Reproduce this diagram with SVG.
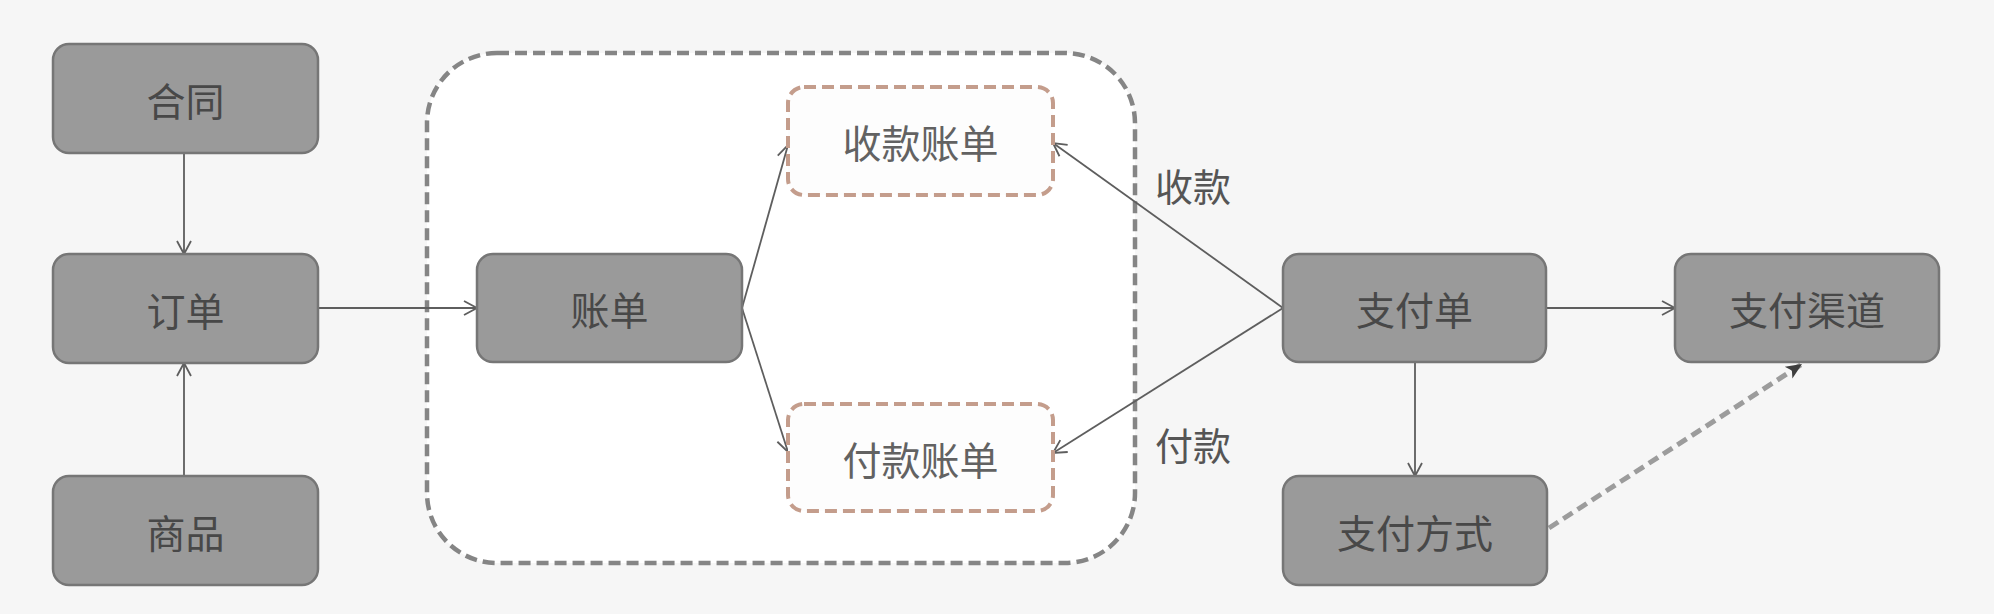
<svg xmlns="http://www.w3.org/2000/svg" width="1994" height="614" viewBox="0 0 1994 614">
  <style>
    .node rect { fill: #9a9a9a; stroke: #767676; stroke-width: 2.5; }
    .sub rect { fill: #fdfdfd; stroke: #c49d8c; stroke-width: 4; stroke-dasharray: 12 6; }
    .node text, .sub text { font-family: "Noto Sans CJK SC", "Noto Sans", sans-serif; font-size: 39px; fill: #484848; text-anchor: middle; dominant-baseline: central; }
    .sub text { fill: #626262; }
    .lbl { font-family: "Noto Sans CJK SC", "Noto Sans", sans-serif; font-size: 38px; fill: #555; text-anchor: middle; dominant-baseline: central; }
    .edge { stroke: #5e5e5e; stroke-width: 1.8; fill: none; marker-end: url(#open); }
    .dashedge { stroke: #9c9c9c; stroke-width: 5; fill: none; stroke-dasharray: 11 6; marker-end: url(#solid); }
  </style>
  <defs>
    <marker id="open" markerUnits="userSpaceOnUse" markerWidth="16" markerHeight="18" refX="14" refY="8" orient="auto">
      <path d="M1,1 L14,8 L1,15" fill="none" stroke="#5e5e5e" stroke-width="1.8"/>
    </marker>
    <marker id="solid" markerUnits="userSpaceOnUse" markerWidth="20" markerHeight="20" refX="16" refY="9" orient="auto">
      <path d="M0,2 L16,9 L0,16 L4,9 Z" fill="#3e3e3e"/>
    </marker>
  </defs>
  <rect x="0" y="0" width="1994" height="614" fill="#f6f6f6"/>

  <g id="container">
    <rect x="427" y="53" width="708" height="510" rx="70" ry="70" fill="#ffffff" stroke="#858585" stroke-width="4.5" stroke-dasharray="12 6"/>
  </g>

  <g id="connectors">
    <line class="edge" x1="184" y1="153" x2="184" y2="254"/>
    <line class="edge" x1="184" y1="475" x2="184" y2="363"/>
    <line class="edge" x1="318" y1="308" x2="477" y2="308"/>
    <line class="edge" x1="742" y1="308" x2="788" y2="145"/>
    <line class="edge" x1="742" y1="308" x2="788" y2="452"/>
    <line class="edge" x1="1283" y1="308" x2="1053" y2="143"/>
    <line class="edge" x1="1283" y1="308" x2="1053" y2="453"/>
    <line class="edge" x1="1546" y1="308" x2="1675" y2="308"/>
    <line class="edge" x1="1415" y1="362" x2="1415" y2="476"/>
    <line class="dashedge" x1="1549" y1="528" x2="1802" y2="364"/>
    <text class="lbl" x="1193" y="184">收款</text>
    <text class="lbl" x="1193" y="443">付款</text>
  </g>

  <g id="n-hetong" class="node">
    <rect x="53" y="44" width="265" height="109" rx="16"/>
    <text x="185.5" y="98.5">合同</text>
  </g>
  <g id="n-dingdan" class="node">
    <rect x="53" y="254" width="265" height="109" rx="16"/>
    <text x="185.5" y="308.5">订单</text>
  </g>
  <g id="n-shangpin" class="node">
    <rect x="53" y="476" width="265" height="109" rx="16"/>
    <text x="185.5" y="530.5">商品</text>
  </g>
  <g id="n-zhangdan" class="node">
    <rect x="477" y="254" width="265" height="108" rx="16"/>
    <text x="609.5" y="308">账单</text>
  </g>
  <g id="n-shoukuan" class="sub">
    <rect x="788" y="87" width="265" height="108" rx="16"/>
    <text x="920.5" y="141">收款账单</text>
  </g>
  <g id="n-fukuan" class="sub">
    <rect x="788" y="404" width="265" height="107" rx="16"/>
    <text x="920.5" y="457.5">付款账单</text>
  </g>
  <g id="n-zhifudan" class="node">
    <rect x="1283" y="254" width="263" height="108" rx="16"/>
    <text x="1414.5" y="308">支付单</text>
  </g>
  <g id="n-qudao" class="node">
    <rect x="1675" y="254" width="264" height="108" rx="16"/>
    <text x="1807" y="308">支付渠道</text>
  </g>
  <g id="n-fangshi" class="node">
    <rect x="1283" y="476" width="264" height="109" rx="16"/>
    <text x="1415" y="530.5">支付方式</text>
  </g>
</svg>
